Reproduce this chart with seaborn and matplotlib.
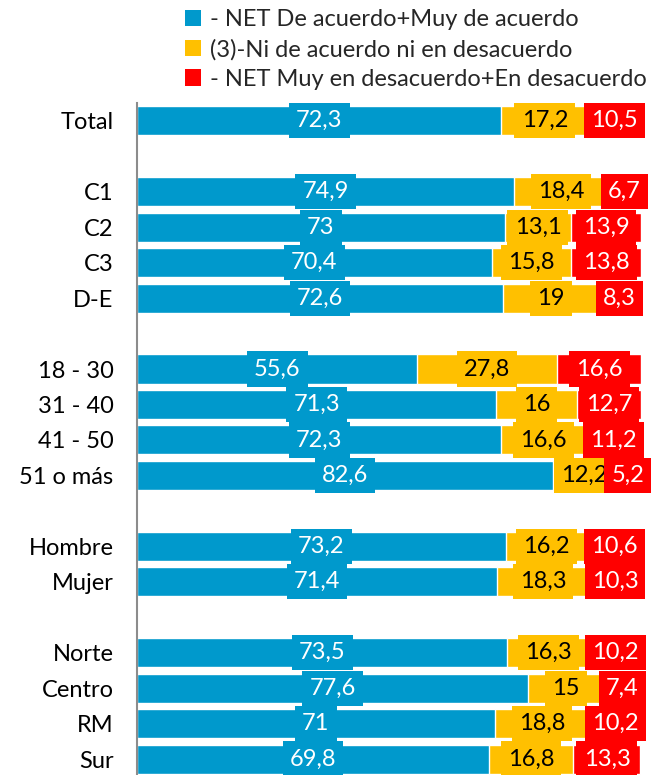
import pandas as pd
import matplotlib.pyplot as plt
import seaborn as sns
from matplotlib.patches import Patch

# Data
categories = ["Total", "C1", "C2", "C3", "D-E", "18 - 30", "31 - 40", "41 - 50", "51 o más",
              "Hombre", "Mujer", "Norte", "Centro", "RM", "Sur"]
acuerdo = [72.3, 74.9, 73, 70.4, 72.6, 55.6, 71.3, 72.3, 82.6, 73.2, 71.4, 73.5, 77.6, 71, 69.8]
neutral = [17.2, 18.4, 13.1, 15.8, 19, 27.8, 16, 16.6, 12.2, 16.2, 18.3, 16.3, 15, 18.8, 16.8]
desacuerdo = [10.5, 6.7, 13.9, 13.8, 8.3, 16.6, 12.7, 11.2, 5.2, 10.6, 10.3, 10.2, 7.4, 10.2, 13.3]
groups = [["Total"], ["C1", "C2", "C3", "D-E"], ["18 - 30", "31 - 40", "41 - 50", "51 o más"],
          ["Hombre", "Mujer"], ["Norte", "Centro", "RM", "Sur"]]
series_names = ["- NET De acuerdo+Muy de acuerdo",
                "(3)-Ni de acuerdo ni en desacuerdo",
                "- NET Muy en desacuerdo+En desacuerdo"]
colors = ["#0099CC", "#FFC000", "#FF0000"]
text_colors = ["white", "black", "white"]

# category order with an empty slot between groups
order = []
for i, g in enumerate(groups):
    if i > 0:
        order.append(f"_gap{i}")
    order.extend(g)

df = pd.DataFrame({"cat": categories, "acuerdo": acuerdo, "neutral": neutral,
                   "desacuerdo": desacuerdo})
df["cum2"] = df["acuerdo"] + df["neutral"]
df["cum3"] = df["cum2"] + df["desacuerdo"]

sns.set_style("white")
plt.rcParams["font.family"] = ["Lato", "DejaVu Sans"]

fig = plt.figure(figsize=(6.54, 7.75), dpi=100)
ax = fig.add_axes([0.2095, 0.0, 0.7706, 0.867])

# stacked by overlaying cumulative bars
for col, c in zip(["cum3", "cum2", "acuerdo"], colors[::-1]):
    sns.barplot(data=df, y="cat", x=col, order=order, color=c, saturation=1,
                width=0.82, orient="h", ax=ax, errorbar=None)

# value labels centred in each segment
for _, row in df.iterrows():
    ypos = order.index(row["cat"])
    left = 0
    for val, c, tc in zip([row["acuerdo"], row["neutral"], row["desacuerdo"]], colors, text_colors):
        ax.text(left + val / 2, ypos, f"{val:g}".replace(".", ","), ha="center", va="center",
                color=tc, fontsize=17,
                bbox=dict(boxstyle="square,pad=0.3", fc=c, ec="none"))
        left += val

ax.set_xlim(0, 100)
ax.set_ylim(18.45, -0.5)
ax.set_yticks([order.index(c) for c in categories])
ax.set_yticklabels(categories, fontsize=17, color="black")
ax.tick_params(axis="y", length=0, pad=17)
ax.set_xticks([])
ax.set_xlabel("")
ax.set_ylabel("")
for s in ["top", "right", "bottom"]:
    ax.spines[s].set_visible(False)
ax.spines["left"].set_color("#8c8c8c")
ax.spines["left"].set_linewidth(1.5)

handles = [Patch(facecolor=c, edgecolor="none") for c in colors]
fig.legend(handles, series_names, loc="upper left", bbox_to_anchor=(0.268, 1.0),
           frameon=False, fontsize=17, handlelength=0.7, handleheight=0.7,
           handletextpad=0.35, labelspacing=0.36, borderaxespad=0)

fig.savefig("out.png", dpi=100)
